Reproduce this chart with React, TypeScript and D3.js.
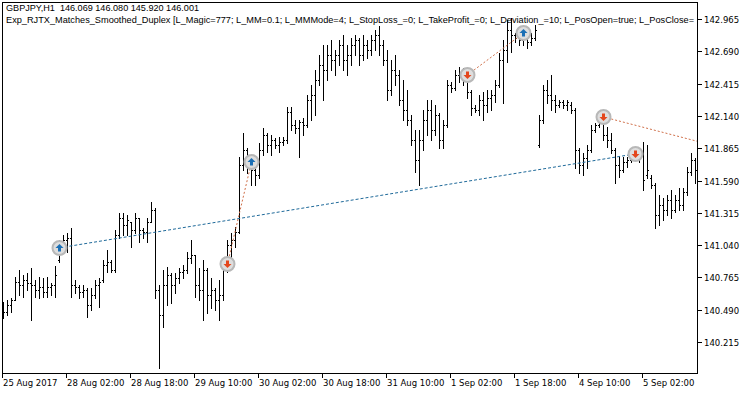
import * as d3 from 'd3';

// GBPJPY H1 bars, 25 Aug 2017 -> 5 Sep 2017
const opens = [
  140.489, 140.472, 140.531, 140.574, 140.727, 140.701, 140.744, 140.718, 140.701, 140.659, 140.684, 140.642, 140.684, 140.701,
  140.914, 141.025, 141.085, 141.102, 140.701, 140.684, 140.642, 140.659, 140.531, 140.616, 140.701, 140.744, 140.872, 140.897,
  140.829, 141.127, 141.272, 141.212, 141.238, 141.17, 141.272, 141.17, 141.153, 141.238, 141.34, 140.659, 140.446, 140.701,
  140.787, 140.701, 140.761, 140.812, 140.829, 140.931, 140.957, 140.701, 140.659, 140.829, 140.616, 140.659, 140.574, 140.616,
  140.829, 141.042, 141.085, 141.153, 141.723, 141.85, 141.723, 141.68, 141.638, 141.85, 141.978, 141.893, 141.936, 141.893,
  141.919, 141.936, 142.174, 142.063, 142.038, 142.089, 142.063, 142.276, 142.319, 142.446, 142.574, 142.531, 142.659, 142.616,
  142.659, 142.744, 142.616, 142.659, 142.744, 142.787, 142.659, 142.744, 142.702, 142.787, 142.829, 142.744, 142.616, 142.361,
  142.531, 142.489, 142.276, 142.191, 142.106, 141.936, 141.765, 141.936, 142.106, 142.191, 142.021, 142.148, 141.936, 142.063,
  142.404, 142.378, 142.489, 142.514, 142.463, 142.344, 142.208, 142.191, 142.276, 142.233, 142.293, 142.319, 142.404, 142.616,
  142.702, 142.872, 142.829, 142.804, 142.787, 142.829, 142.77, 142.804, 141.893, 142.106, 142.361, 142.319, 142.276, 142.233,
  142.259, 142.233, 142.233, 142.191, 141.85, 141.723, 141.782, 141.85, 142.021, 142.063, 142.131, 141.978, 141.936, 141.85,
  141.723, 141.68, 141.748, 141.765, 141.808, 141.791, 141.808, 141.638, 141.612, 141.553, 141.297, 141.382, 141.34, 141.425,
  141.34, 141.425, 141.382, 141.493, 141.663, 141.765,
];

const highs = [
  140.557, 140.574, 140.591, 140.77, 140.829, 140.787, 140.803, 140.846, 140.744, 140.77, 140.761, 140.77, 140.718, 140.863,
  141.085, 141.127, 141.144, 141.187, 140.744, 140.701, 140.701, 140.676, 140.676, 140.744, 140.761, 140.914, 141.0, 140.914,
  141.17, 141.314, 141.314, 141.297, 141.238, 141.314, 141.272, 141.187, 141.272, 141.408, 141.357, 140.701, 140.829, 140.855,
  140.803, 140.803, 140.846, 140.872, 140.982, 141.085, 140.957, 140.846, 140.914, 140.846, 140.761, 140.676, 140.744, 140.897,
  141.085, 141.144, 141.195, 141.791, 141.995, 141.867, 141.765, 141.706, 141.91, 142.038, 141.995, 141.978, 141.953, 141.961,
  141.961, 142.216, 142.216, 142.106, 142.106, 142.123, 142.319, 142.404, 142.531, 142.659, 142.744, 142.744, 142.787, 142.702,
  142.787, 142.829, 142.744, 142.804, 142.829, 142.804, 142.829, 142.787, 142.829, 142.872, 142.906, 142.787, 142.702, 142.616,
  142.659, 142.531, 142.446, 142.361, 142.148, 142.021, 142.021, 142.191, 142.276, 142.276, 142.233, 142.165, 142.106, 142.446,
  142.429, 142.531, 142.557, 142.548, 142.489, 142.361, 142.233, 142.319, 142.344, 142.361, 142.361, 142.446, 142.676, 142.787,
  142.957, 142.974, 142.846, 142.846, 142.872, 142.897, 142.846, 142.914, 142.148, 142.404, 142.446, 142.489, 142.319, 142.276,
  142.276, 142.276, 142.259, 142.208, 141.867, 141.825, 141.893, 142.063, 142.08, 142.174, 142.148, 142.046, 141.995, 141.867,
  141.791, 141.791, 141.791, 141.833, 141.85, 141.825, 141.919, 141.893, 141.638, 141.57, 141.467, 141.442, 141.467, 141.51,
  141.467, 141.527, 141.527, 141.706, 141.825, 141.782,
];

const lows = [
  140.421, 140.446, 140.472, 140.574, 140.616, 140.599, 140.659, 140.404, 140.599, 140.591, 140.599, 140.599, 140.616, 140.599,
  140.897, 140.974, 140.982, 140.599, 140.633, 140.591, 140.599, 140.429, 140.489, 140.591, 140.514, 140.727, 140.812, 140.812,
  140.812, 141.102, 141.127, 141.127, 141.025, 141.144, 141.068, 141.102, 141.068, 141.238, 140.591, 139.995, 140.344, 140.531,
  140.548, 140.633, 140.718, 140.761, 140.803, 140.889, 140.599, 140.574, 140.404, 140.463, 140.506, 140.489, 140.404, 140.574,
  140.812, 140.94, 141.025, 141.144, 141.68, 141.655, 141.553, 141.553, 141.612, 141.808, 141.833, 141.808, 141.867, 141.833,
  141.893, 141.91, 142.021, 141.995, 141.791, 141.978, 142.046, 142.106, 142.148, 142.404, 142.276, 142.446, 142.531, 142.489,
  142.574, 142.531, 142.489, 142.574, 142.659, 142.574, 142.616, 142.633, 142.659, 142.702, 142.659, 142.574, 142.276, 142.319,
  142.404, 142.233, 142.106, 142.063, 141.893, 141.663, 141.553, 141.85, 141.978, 141.936, 141.978, 141.867, 141.867, 142.046,
  142.344, 142.361, 142.429, 142.404, 142.293, 142.148, 142.174, 142.148, 142.106, 142.174, 142.191, 142.259, 142.387, 142.25,
  142.599, 142.684, 142.77, 142.744, 142.744, 142.719, 142.744, 142.787, 141.876, 142.08, 142.25, 142.191, 142.174, 142.216,
  142.208, 142.191, 142.165, 141.697, 141.655, 141.638, 141.697, 141.833, 142.004, 142.046, 141.936, 141.876, 141.825, 141.57,
  141.621, 141.663, 141.706, 141.748, 141.765, 141.748, 141.51, 141.612, 141.527, 141.187, 141.212, 141.255, 141.297, 141.272,
  141.323, 141.34, 141.34, 141.467, 141.638, 141.57,
];

const closes = [
  140.472, 140.531, 140.574, 140.727, 140.701, 140.744, 140.718, 140.701, 140.659, 140.684, 140.642, 140.684, 140.701, 140.787,
  141.025, 141.085, 141.102, 140.701, 140.684, 140.642, 140.659, 140.531, 140.616, 140.701, 140.727, 140.872, 140.897, 140.829,
  141.127, 141.272, 141.212, 141.255, 141.17, 141.272, 141.17, 141.153, 141.238, 141.34, 140.659, 140.446, 140.701, 140.787,
  140.701, 140.761, 140.812, 140.829, 140.931, 140.957, 140.701, 140.659, 140.829, 140.616, 140.659, 140.574, 140.616, 140.829,
  141.042, 141.085, 141.153, 141.723, 141.85, 141.723, 141.68, 141.638, 141.85, 141.978, 141.893, 141.936, 141.893, 141.919,
  141.936, 142.174, 142.063, 142.038, 142.089, 142.063, 142.276, 142.319, 142.446, 142.574, 142.531, 142.659, 142.616, 142.659,
  142.744, 142.616, 142.659, 142.744, 142.787, 142.659, 142.744, 142.702, 142.787, 142.829, 142.744, 142.616, 142.361, 142.531,
  142.489, 142.276, 142.191, 142.106, 141.936, 141.765, 141.936, 142.106, 142.191, 142.021, 142.148, 141.936, 142.063, 142.404,
  142.378, 142.489, 142.514, 142.463, 142.344, 142.208, 142.191, 142.276, 142.233, 142.293, 142.319, 142.404, 142.616, 142.702,
  142.872, 142.829, 142.804, 142.787, 142.829, 142.77, 142.804, 142.872, 142.106, 142.361, 142.319, 142.276, 142.233, 142.259,
  142.233, 142.259, 142.191, 141.85, 141.723, 141.782, 141.85, 142.021, 142.063, 142.131, 141.978, 141.936, 141.85, 141.723,
  141.68, 141.748, 141.765, 141.808, 141.791, 141.808, 141.595, 141.68, 141.553, 141.297, 141.382, 141.34, 141.425, 141.34,
  141.425, 141.382, 141.493, 141.663, 141.765, 141.68,
];

const timeLabels = [
  '25 Aug 2017', '28 Aug 02:00', '28 Aug 18:00', '29 Aug 10:00', '30 Aug 02:00', '30 Aug 18:00',
  '31 Aug 10:00', '1 Sep 02:00', '1 Sep 18:00', '4 Sep 10:00', '5 Sep 02:00',
];
const labelEvery = 16; // bars between time labels

const priceTicks = [142.965, 142.69, 142.415, 142.14, 141.865, 141.59, 141.315, 141.04, 140.765, 140.49, 140.215];

// trades: open bar/price, close bar/price
const tradeTypes = ['buy', 'sell', 'sell', 'sell'];
const tradeOpenBars = [14, 56, 116, 150];
const tradeOpenPrices = [141.017, 140.88, 142.489, 142.131];
const tradeCloseBars = [158, 62, 130, 174];
const tradeClosePrices = [141.817, 141.748, 142.846, 141.919];
const tradeClosed = [true, true, true, false];

const title1 = 'GBPJPY,H1  146.069 146.080 145.920 146.001';
const title2 =
  'Exp_RJTX_Matches_Smoothed_Duplex [L_Magic=777; L_MM=0.1; L_MMMode=4; L_StopLoss_=0; L_TakeProfit_=0; L_Deviation_=10; L_PosOpen=true; L_PosClose=';

const W = 750;
const H = 394;
const plot = { left: 2, top: 2, right: 697, bottom: 373 };
const font = '"DejaVu Sans", sans-serif';
const headerFont = '"Liberation Sans", Arial, sans-serif';

function Marker({ x, y, type }: { x: number; y: number; type: string }) {
  const up = type === 'buy';
  const s = up ? 1 : -1;
  const d = `M0,${-4 * s} L4,0 L1.5,0 L1.5,${3.5 * s} L-1.5,${3.5 * s} L-1.5,0 L-4,0 Z`;
  return (
    <g transform={`translate(${x + 0.5},${y})`}>
      <circle r={7} fill="#dedede" stroke="#b8b8b8" strokeWidth={2} />
      <path d={d} fill={up ? '#1b6fb5' : '#e4461c'} />
    </g>
  );
}

export default function App() {
  const x = d3.scaleLinear().domain([0, 173]).range([3, 695]);
  const y = d3.scaleLinear().domain([139.951, 143.11]).range([plot.bottom, plot.top]);
  const px = (i: number) => Math.round(x(i));
  const py = (p: number) => Math.round(y(p));

  return (
    <div>
      <style>{`body{margin:0;background:#fff}`}</style>
      <svg width={W} height={H} style={{ display: 'block' }} fontFamily={font}>
        <defs>
          <clipPath id="plotClip">
            <rect x={plot.left} y={plot.top} width={plot.right - plot.left} height={plot.bottom - plot.top} />
          </clipPath>
        </defs>
        <rect width={W} height={H} fill="#fff" />

        {/* bars */}
        <g fill="#000">
          {opens.map((o, i) => {
            const bx = px(i);
            const yh = py(highs[i]);
            const yl = py(lows[i]);
            return (
              <g key={i}>
                <rect x={bx} y={yh} width={1} height={Math.max(1, yl - yh + 1)} />
                <rect x={bx - 1} y={py(o)} width={1} height={1} />
                <rect x={bx + 1} y={py(closes[i])} width={1} height={1} />
              </g>
            );
          })}
        </g>

        {/* trade lines */}
        <g clipPath="url(#plotClip)">
          {tradeTypes.map((t, k) => (
            <line
              key={k}
              x1={px(tradeOpenBars[k]) + 0.5}
              y1={y(tradeOpenPrices[k])}
              x2={x(tradeCloseBars[k]) + 0.5}
              y2={y(tradeClosePrices[k])}
              stroke={t === 'buy' ? '#1f6a9a' : '#d0704a'}
              strokeWidth={1}
              strokeDasharray={t === 'buy' ? '3,2' : '2,2'}
            />
          ))}
        </g>

        {/* trade markers */}
        {tradeTypes.map((t, k) => (
          <g key={k}>
            <Marker x={px(tradeOpenBars[k])} y={py(tradeOpenPrices[k])} type={t} />
            {tradeClosed[k] && (
              <Marker
                x={px(tradeCloseBars[k])}
                y={py(tradeClosePrices[k])}
                type={t === 'buy' ? 'sell' : 'buy'}
              />
            )}
          </g>
        ))}

        {/* frame */}
        <rect
          x={plot.left + 0.5}
          y={plot.top + 0.5}
          width={plot.right - plot.left}
          height={plot.bottom - plot.top}
          fill="none"
          stroke="#000"
        />

        {/* price axis */}
        {priceTicks.map((p) => (
          <g key={p}>
            <line x1={plot.right} x2={plot.right + 5} y1={py(p) + 0.5} y2={py(p) + 0.5} stroke="#000" />
            <text x={plot.right + 7} y={py(p) + 4} fontSize={8.5} fill="#000">
              {p.toFixed(3)}
            </text>
          </g>
        ))}

        {/* time axis */}
        {timeLabels.map((lab, k) => {
          const tx = px(k * labelEvery) - 1;
          return (
            <g key={lab}>
              <line x1={tx + 0.5} x2={tx + 0.5} y1={plot.bottom} y2={plot.bottom + 5} stroke="#000" />
              <text x={tx + 1} y={386} fontSize={8.5} fill="#000">
                {lab}
              </text>
            </g>
          );
        })}

        {/* header */}
        <text
          x={6}
          y={11}
          fontSize={9}
          fontFamily={headerFont}
          textLength={193}
          lengthAdjust="spacingAndGlyphs"
          style={{ whiteSpace: 'pre' }}
        >
          {title1}
        </text>
        <text x={6} y={23} fontSize={9} fontFamily={headerFont} textLength={688} lengthAdjust="spacingAndGlyphs">
          {title2}
        </text>
      </svg>
    </div>
  );
}
